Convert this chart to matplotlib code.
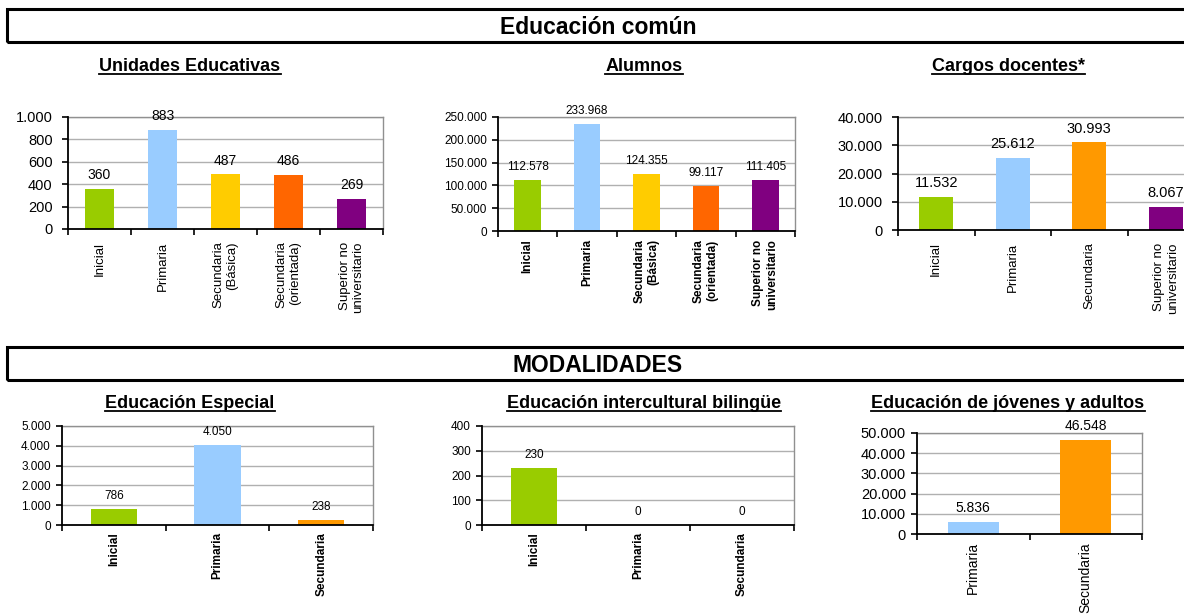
import matplotlib
matplotlib.use("Agg")
import matplotlib.pyplot as plt
from matplotlib import font_manager
from matplotlib.patches import Rectangle
from matplotlib.lines import Line2D

# ---- data ----
ue_cats = ["Inicial", "Primaria", "Secundaria\n(Básica)", "Secundaria\n(orientada)", "Superior no\nuniversitario"]
ue_vals = [360, 883, 487, 486, 269]

al_cats = ["Inicial", "Primaria", "Secundaria\n(Básica)", "Secundaria\n(orientada)", "Superior no\nuniversitario"]
al_vals = [112578, 233968, 124355, 99117, 111405]

cd_cats = ["Inicial", "Primaria", "Secundaria", "Superior no\nuniversitario"]
cd_vals = [11532, 25612, 30993, 8067]

esp_cats = ["Inicial", "Primaria", "Secundaria"]
esp_vals = [786, 4050, 238]

eib_cats = ["Inicial", "Primaria", "Secundaria"]
eib_vals = [230, 0, 0]

eja_cats = ["Primaria", "Secundaria"]
eja_vals = [5836, 46548]

GREEN = "#99CC00"
BLUE = "#99CCFF"
YELLOW = "#FFCC00"
ORANGE = "#FF6600"
ORANGE2 = "#FF9900"
PURPLE = "#800080"

W, H = 1184, 615
names = {f.name for f in font_manager.fontManager.ttflist}
BASE = "Liberation Sans" if "Liberation Sans" in names else "DejaVu Sans"
NARROW = "Liberation Sans Narrow" if "Liberation Sans Narrow" in names else BASE
plt.rcParams["font.family"] = BASE


def fmt(v):
    return f"{v:,.0f}".replace(",", ".")


def px_axes(fig, left, top, right, bottom):
    return fig.add_axes([left / W, 1 - bottom / H, (right - left) / W, (bottom - top) / H])


def bar_panel(fig, box, cats, vals, colors, ymax, ystep,
              tick_fs, lab_fs, val_fs, font, bold_x=False, xpad=9, ypad=7):
    ax = px_axes(fig, *box)
    n = len(cats)
    x = list(range(n))
    ax.bar(x, vals, width=0.45, color=colors, zorder=3)
    ax.set_xlim(-0.5, n - 0.5)
    ax.set_ylim(0, ymax)
    yt = list(range(0, ymax + 1, ystep))
    ax.set_yticks(yt)
    ax.set_yticklabels([fmt(v) for v in yt], fontsize=tick_fs, family=font)
    for v in yt[1:]:
        ax.axhline(v, color="#B0B0B0", lw=1.0, zorder=1)
    ax.set_xticks([i - 0.5 for i in range(n + 1)])
    ax.set_xticklabels([])
    ax.set_xticks(x, minor=True)
    ax.set_xticklabels(cats, minor=True, rotation=90, fontsize=lab_fs,
                       family=font, ma="right",
                       fontweight="bold" if bold_x else "normal")
    ax.tick_params(axis="x", which="major", direction="out", length=4, width=1.2)
    ax.tick_params(axis="x", which="minor", length=0, pad=xpad)
    ax.tick_params(axis="y", direction="out", length=4, width=1.2, pad=ypad)
    for s in ("left", "bottom"):
        ax.spines[s].set_color("black")
        ax.spines[s].set_linewidth(1.3)
        ax.spines[s].set_zorder(4)
    for s in ("top", "right"):
        ax.spines[s].set_color("#909090")
        ax.spines[s].set_linewidth(1.0)
    for xi, v in zip(x, vals):
        ax.annotate(fmt(v), (xi, v), xytext=(0, 5), textcoords="offset points",
                    ha="center", va="bottom", fontsize=val_fs, family=font)
    return ax


def header(fig, text, top, bottom, yc):
    fig.patches.append(Rectangle((7 / W, 1 - bottom / H), 1.2, (bottom - top) / H,
                                 transform=fig.transFigure, fill=False,
                                 edgecolor="black", lw=2.2))
    fig.text(598 / W, 1 - yc / H, text, ha="center", va="center",
             fontsize=16.5, fontweight="bold")


def utitle(fig, renderer, text, xc, base, fs=13):
    t = fig.text(xc / W, 1 - base / H, text, ha="center", va="baseline",
                 fontsize=fs, fontweight="bold")
    bb = t.get_window_extent(renderer)
    y = 1 - (base + 3) / H
    fig.lines.append(Line2D([bb.x0 / W, bb.x1 / W], [y, y], transform=fig.transFigure,
                            color="black", lw=1.3))


fig = plt.figure(figsize=(W / 100, H / 100), dpi=100)
renderer = fig.canvas.get_renderer()

header(fig, "Educación común", 9, 42, 27)
header(fig, "MODALIDADES", 347, 380, 365)

bar_panel(fig, (68, 117, 383, 229), ue_cats, ue_vals,
          [GREEN, BLUE, YELLOW, ORANGE, PURPLE], 1000, 200, 10.5, 9.5, 10, BASE)
bar_panel(fig, (498, 117, 795, 231), al_cats, al_vals,
          [GREEN, BLUE, YELLOW, ORANGE, PURPLE], 250000, 50000, 8.5, 8.5, 8.5, NARROW,
          bold_x=True, xpad=6, ypad=4)
bar_panel(fig, (898, 117, 1204, 230), cd_cats, cd_vals,
          [GREEN, BLUE, ORANGE2, PURPLE], 40000, 10000, 10.5, 9.5, 10.5, BASE)
bar_panel(fig, (62, 426, 373, 525), esp_cats, esp_vals,
          [GREEN, BLUE, ORANGE2], 5000, 1000, 8.5, 8.5, 8.5, NARROW,
          bold_x=True, xpad=5, ypad=4)
bar_panel(fig, (482, 426, 794, 525), eib_cats, eib_vals,
          [GREEN, BLUE, ORANGE2], 400, 100, 8.5, 8.5, 8.5, NARROW,
          bold_x=True, xpad=5, ypad=4)
bar_panel(fig, (917, 433, 1142, 534), eja_cats, eja_vals,
          [BLUE, ORANGE2], 50000, 10000, 10.5, 10, 10, BASE, xpad=6, ypad=4)

utitle(fig, renderer, "Unidades Educativas", 190, 71)
utitle(fig, renderer, "Alumnos", 644, 71)
utitle(fig, renderer, "Cargos docentes*", 1008, 71)
utitle(fig, renderer, "Educación Especial", 190, 408)
utitle(fig, renderer, "Educación intercultural bilingüe", 644, 408)
utitle(fig, renderer, "Educación de jóvenes y adultos", 1008, 408)

fig.savefig("out.png", dpi=100)
